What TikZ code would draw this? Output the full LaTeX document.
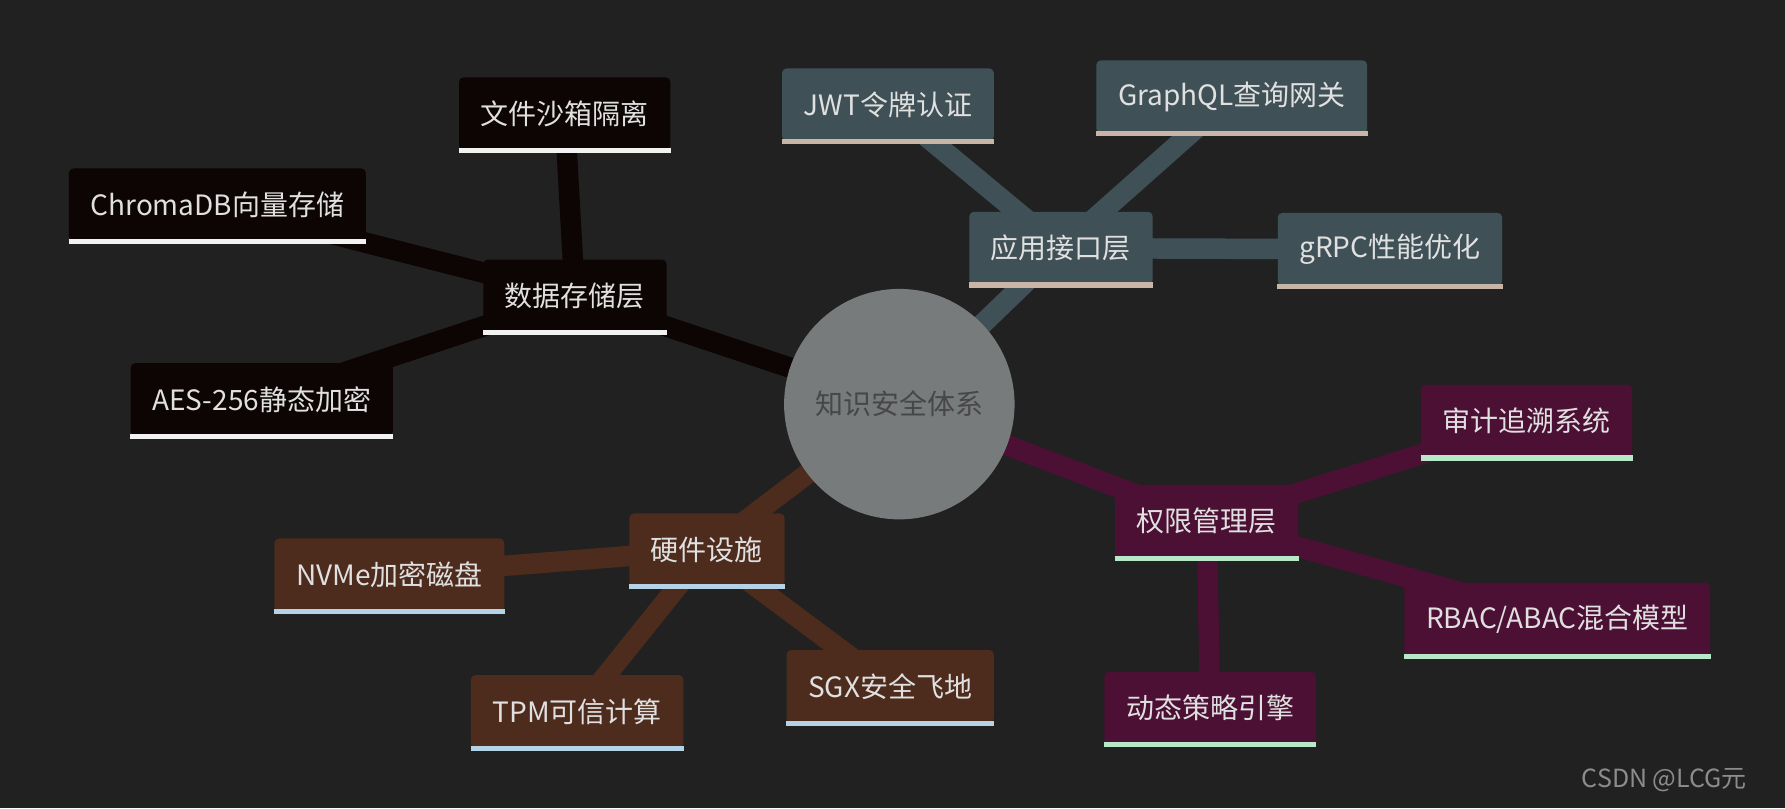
\documentclass[tikz,border=0pt]{standalone}
\usepackage{fontspec}
\setmainfont{Noto Sans CJK SC}
\usetikzlibrary{positioning, calc}
\definecolor{bg}{HTML}{212121}
\definecolor{hubgray}{HTML}{777B7B}
\definecolor{dataclr}{HTML}{0D0404}
\definecolor{apiclr}{HTML}{3F5157}
\definecolor{permclr}{HTML}{4B1034}
\definecolor{hwclr}{HTML}{4D2C1E}
\definecolor{lineA}{HTML}{F2F2F2}
\definecolor{lineB}{HTML}{C9B4A8}
\definecolor{lineC}{HTML}{B7E8C8}
\definecolor{lineD}{HTML}{B4D3E6}
\pgfdeclarelayer{back}
\pgfdeclarelayer{edges}
\pgfsetlayers{back,edges,main}
\newcommand{\uline}[2]{\draw[#2, line width=0.09cm] (#1.south west) -- (#1.south east);}

\begin{document}
\begin{tikzpicture}[x=0.02cm, y=-0.02cm,
    topic/.style={fill=#1, text=white!88!black, font=\fontsize{14pt}{16pt}\selectfont,
      minimum height=1.28cm, inner xsep=0.38cm, rounded corners=0.08cm},
    branch/.style={draw=#1, line width=0.36cm}]
    \useasboundingbox (0,0) rectangle (1568,710);

    % Hub
    \node[circle, fill=hubgray, minimum size=4.05cm, text=black!72,
      font=\fontsize{14pt}{16pt}\selectfont] (hub) at (790,355) {知识安全体系};

    % Data storage
    \node[topic=dataclr] (data) at (505,260) {数据存储层};
    \node[topic=dataclr] (sandbox) at (496,100) {文件沙箱隔离};
    \node[topic=dataclr] (chroma) at (191,180) {ChromaDB向量存储};
    \node[topic=dataclr] (aes) at (230,351) {AES-256静态加密};

    % API layer
    \node[topic=apiclr] (api) at (932,218) {应用接口层};
    \node[topic=apiclr] (jwt) at (780,92) {JWT令牌认证};
    \node[topic=apiclr] (graphql) at (1082,85) {GraphQL查询网关};
    \node[topic=apiclr] (grpc) at (1221,219) {gRPC性能优化};

    % Permission layer
    \node[topic=permclr] (perm) at (1060,458) {权限管理层};
    \node[topic=permclr] (audit) at (1341,370) {审计追溯系统};
    \node[topic=permclr] (rbac) at (1368,544) {RBAC/ABAC混合模型};
    \node[topic=permclr] (policy) at (1063,622) {动态策略引擎};

    % Hardware
    \node[topic=hwclr] (hw) at (621,483) {硬件设施};
    \node[topic=hwclr] (nvme) at (342,505) {NVMe加密磁盘};
    \node[topic=hwclr] (tpm) at (507,625) {TPM可信计算};
    \node[topic=hwclr] (sgx) at (782,603) {SGX安全飞地};

    % Underlines
    \foreach \n in {data,sandbox,chroma,aes} {\uline{\n}{lineA}}
    \foreach \n in {api,jwt,graphql,grpc} {\uline{\n}{lineB}}
    \foreach \n in {perm,audit,rbac,policy} {\uline{\n}{lineC}}
    \foreach \n in {hw,nvme,tpm,sgx} {\uline{\n}{lineD}}

    \node[text=black!45, font=\fontsize{12.5pt}{14pt}\selectfont] (mark) at (1462,685) {CSDN @LCG元};

    % Connectors
    \begin{pgfonlayer}{edges}
    \draw[branch=dataclr] (hub.center) -- (data.center);
    \foreach \n in {sandbox,chroma,aes} {\draw[branch=dataclr] (data.center) -- (\n.center);}
    \draw[branch=apiclr] (hub.center) -- (api.center);
    \foreach \n in {jwt,graphql,grpc} {\draw[branch=apiclr] (api.center) -- (\n.center);}
    \draw[branch=permclr] (hub.center) -- (perm.center);
    \foreach \n in {audit,rbac,policy} {\draw[branch=permclr] (perm.center) -- (\n.center);}
    \draw[branch=hwclr] (hub.center) -- (hw.center);
    \foreach \n in {nvme,tpm,sgx} {\draw[branch=hwclr] (hw.center) -- (\n.center);}
    \end{pgfonlayer}
    \begin{pgfonlayer}{back}
    \fill[bg] (0,0) rectangle (1568,710);
    \end{pgfonlayer}
\end{tikzpicture}
\end{document}
